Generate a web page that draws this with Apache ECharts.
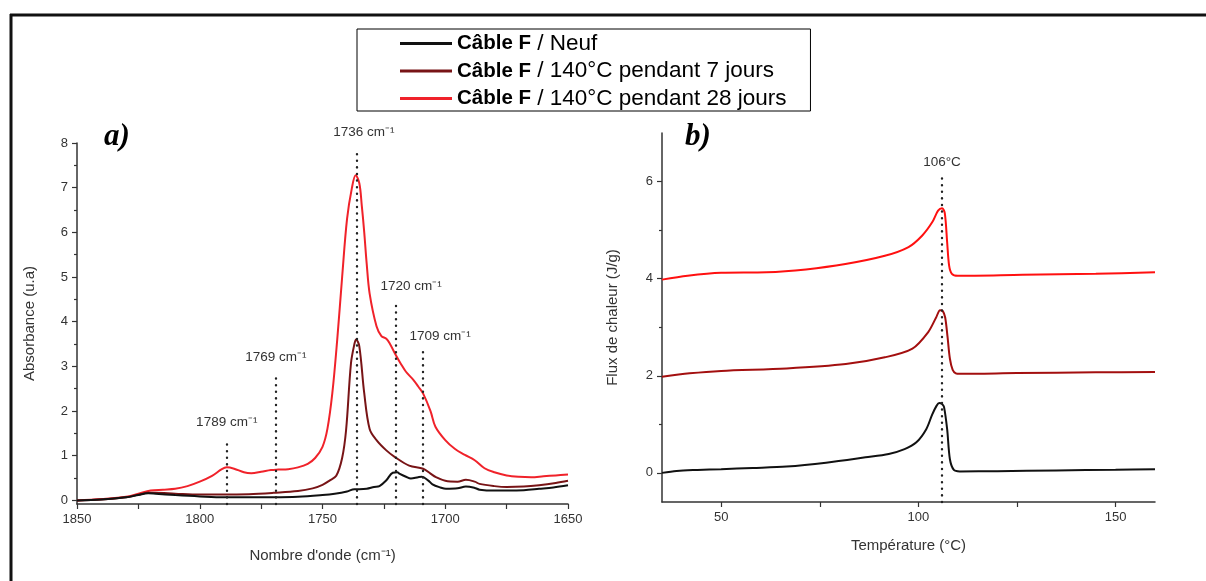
<!DOCTYPE html>
<html>
<head>
<meta charset="utf-8">
<script src="https://cdn.jsdelivr.net/npm/echarts@6/dist/echarts.min.js"></script>
<style>
html,body{margin:0;padding:0;background:#fff;}
#chart{width:1206px;height:581px;}
</style>
</head>
<body>
<div id="chart"></div>
<script>
// ---- Legend / series names ----
const seriesNames = ['Câble F / Neuf', 'Câble F / 140°C pendant 7 jours', 'Câble F / 140°C pendant 28 jours'];

// ---- Panel a) FTIR : [wavenumber (cm-1), absorbance (u.a)] ----
const ftirNeuf = [[1850,0.0],[1840,0.02],[1830,0.07],[1825,0.12],[1821,0.16],[1818,0.15],[1810,0.12],[1800,0.09],[1790,0.07],[1780,0.07],[1770,0.07],[1760,0.08],[1750,0.12],[1745,0.15],[1740,0.2],[1737,0.25],[1735,0.25],[1732,0.26],[1729,0.3],[1726.8,0.32],[1724,0.45],[1721.4,0.62],[1719.5,0.63],[1718.7,0.6],[1716,0.53],[1714,0.49],[1711,0.52],[1709.5,0.53],[1707,0.45],[1705.2,0.36],[1702,0.29],[1699.7,0.26],[1695,0.27],[1691.6,0.31],[1688,0.28],[1686,0.24],[1680,0.22],[1674,0.22],[1668,0.23],[1661.8,0.26],[1656,0.29],[1650,0.34]];
const ftir7j = [[1850,0.0],[1840,0.02],[1830,0.07],[1825,0.13],[1821,0.17],[1818,0.17],[1810,0.15],[1800,0.13],[1790,0.13],[1780,0.14],[1770,0.17],[1760,0.21],[1754,0.27],[1750,0.35],[1747,0.45],[1744.4,0.55],[1742,0.95],[1740.4,1.57],[1738.4,3.07],[1737,3.5],[1736.3,3.6],[1735,3.45],[1733,2.4],[1730.8,1.6],[1728,1.35],[1724,1.12],[1720.5,0.97],[1714.7,0.78],[1709,0.71],[1706,0.6],[1703.8,0.52],[1700,0.44],[1695,0.42],[1691.6,0.46],[1688,0.42],[1686,0.37],[1680,0.32],[1675,0.3],[1668,0.31],[1661.8,0.34],[1655,0.39],[1650,0.44]];
const ftir28j = [[1850,0.0],[1840,0.03],[1830,0.08],[1825,0.15],[1820,0.22],[1815,0.24],[1810,0.26],[1805,0.32],[1800,0.42],[1795,0.55],[1791,0.7],[1789,0.74],[1786,0.71],[1782,0.63],[1779,0.61],[1775,0.64],[1771,0.68],[1768,0.69],[1764,0.7],[1760,0.74],[1756,0.82],[1753,0.95],[1750,1.2],[1748,1.6],[1746,2.4],[1744,3.6],[1742,5.0],[1740,6.3],[1738,7.0],[1736.5,7.28],[1735,7.1],[1734,6.6],[1733,6.0],[1732,5.3],[1730.8,4.63],[1728,3.9],[1726,3.68],[1724,3.62],[1722.5,3.5],[1720.5,3.29],[1718,3.05],[1716,2.88],[1713,2.7],[1711,2.55],[1709,2.39],[1706,2.0],[1704,1.65],[1700,1.35],[1696,1.15],[1692,1.02],[1688,0.9],[1684,0.72],[1680,0.63],[1675,0.56],[1670,0.53],[1665,0.52],[1660,0.54],[1655,0.56],[1650,0.58]];

// ---- Panel a) annotated bands: [wavenumber, top of dotted line] ----
const ftirBands = [[1789,1.38],[1769,2.84],[1736,7.88],[1720,4.44],[1709,3.32]];

// ---- Panel b) DSC : [temperature (°C), heat flow (J/g)] ----
const dscNeuf = [[35,0.0],[38.7,0.04],[44,0.06],[50,0.076],[58,0.1],[66.6,0.13],[76.6,0.21],[86.6,0.32],[92.5,0.39],[96.5,0.49],[99.5,0.63],[102,0.9],[103.5,1.2],[104.6,1.38],[105.3,1.44],[106,1.42],[106.5,1.36],[107.3,0.9],[108,0.28],[109,0.06],[110.5,0.03],[120,0.035],[135,0.05],[150,0.065],[160,0.076]];
const dsc7j = [[35,1.98],[42,2.05],[50,2.1],[66.6,2.15],[81.6,2.24],[91.5,2.38],[98.5,2.56],[102.5,2.9],[104.5,3.2],[105.5,3.35],[106.2,3.33],[106.8,3.2],[107.4,2.8],[108,2.35],[108.7,2.12],[109.5,2.05],[110.5,2.04],[125,2.055],[145,2.07],[160,2.08]];
const dsc28j = [[35,3.98],[41.5,4.06],[50,4.12],[61.5,4.13],[71.5,4.19],[81.5,4.3],[91.5,4.47],[97.5,4.65],[101,4.89],[103.5,5.16],[105,5.4],[106,5.45],[106.7,5.35],[107.3,4.75],[107.8,4.27],[108.5,4.1],[110,4.06],[126.4,4.08],[145,4.1],[160,4.13]];

// ---- Panel b) annotated peak ----
const dscPeak = [[106,6.07]];

// ---- Tick values ----
const aXLabels = [1650,1700,1750,1800,1850];
const aXTicks = [1650,1675,1700,1725,1750,1775,1800,1825,1850];
const aYLabels = [0,1,2,3,4,5,6,7,8];
const aYMinor = [0.5,1.5,2.5,3.5,4.5,5.5,6.5,7.5];
const bXLabels = [50,100,150];
const bXTicks = [50,75,100,125,150];
const bYLabels = [0,2,4,6];
const bYMinor = [1,3,5];

const colA = ['#111111', '#781416', '#f0222a'];
const colB = ['#111111', '#a30f0f', '#ff1010'];
const txt = '#333333';
const FONT = 'Liberation Sans';
const B_MIN = -0.6;

const chart = echarts.init(document.getElementById('chart'), null, {renderer: 'canvas'});

function axisCommon() {
  return {
    axisLine: {show: true, onZero: false, lineStyle: {color: '#333', width: 1.5}},
    axisTick: {show: true, inside: false, length: 5, lineStyle: {color: '#333', width: 1.2}},
    axisLabel: {color: txt, fontSize: 13, fontFamily: FONT, margin: 6},
    splitLine: {show: false}
  };
}
const plain = v => String(v);

function cm(v) { return v + ' cm⁻¹'; }
const bandOffsets = {1789: 0, 1769: 0, 1736: 7, 1720: 15, 1709: 17};

const bandLines = ftirBands.map(b => [
  {coord: [b[0], -0.08]},
  {coord: [b[0], b[1]], label: {formatter: cm(b[0]), offset: [bandOffsets[b[0]] || 0, 0]}}
]);
const peakLines = dscPeak.map(p => [
  {coord: [p[0], B_MIN]},
  {coord: [p[0], p[1]], label: {formatter: p[0] + '°C'}}
]);

const markLineStyle = {
  silent: true,
  symbol: ['none', 'none'],
  animation: false,
  lineStyle: {color: '#222', width: 2.4, type: [0.1, 6.5], cap: 'round'},
  label: {show: true, position: 'end', color: txt, fontSize: 13.5, fontFamily: FONT, distance: 9}
};

const option = {
  animation: false,
  backgroundColor: '#ffffff',
  grid: [
    {left: 77, top: 143, width: 491, height: 361, containLabel: false},
    {left: 662, top: 133, width: 493, height: 369, containLabel: false}
  ],
  legend: {
    data: seriesNames,
    orient: 'vertical',
    left: 357,
    top: 29,
    padding: [3, 24, 1, 43],
    itemGap: 4.5,
    itemWidth: 52,
    itemHeight: 3,
    icon: 'rect',
    borderColor: '#000',
    borderWidth: 1,
    backgroundColor: '#fff',
    selectedMode: false,
    formatter: function (name) {
      const parts = name.split(' / ');
      return '{b|' + parts[0] + '}{n| / ' + parts[1] + '}';
    },
    textStyle: {
      fontFamily: FONT, fontSize: 21, color: '#000', lineHeight: 21,
      rich: {
        b: {fontFamily: FONT, fontSize: 20.5, fontWeight: 'bold', color: '#000', lineHeight: 21},
        n: {fontFamily: FONT, fontSize: 22.5, color: '#000', lineHeight: 21}
      }
    }
  },
  xAxis: [
    Object.assign(axisCommon(), {
      type: 'value', gridIndex: 0, min: 1650, max: 1850, inverse: true,
      name: 'Nombre d\'onde (cm⁻¹)', nameLocation: 'middle', nameGap: 44,
      nameTextStyle: {color: txt, fontSize: 15, fontFamily: FONT},
      axisTick: {show: true, inside: false, length: 5, customValues: aXTicks, lineStyle: {color: '#333', width: 1.2}},
      axisLabel: {color: txt, fontSize: 13, fontFamily: FONT, margin: 9, customValues: aXLabels, formatter: plain}
    }),
    Object.assign(axisCommon(), {
      type: 'value', gridIndex: 1, min: 35, max: 160,
      name: 'Température (°C)', nameLocation: 'middle', nameGap: 36,
      nameTextStyle: {color: txt, fontSize: 15, fontFamily: FONT},
      axisTick: {show: true, inside: false, length: 5, customValues: bXTicks, lineStyle: {color: '#333', width: 1.2}},
      axisLabel: {color: txt, fontSize: 13, fontFamily: FONT, margin: 9, customValues: bXLabels, formatter: plain}
    })
  ],
  yAxis: [
    Object.assign(axisCommon(), {
      type: 'value', gridIndex: 0, min: -0.08, max: 8, position: 'left',
      name: 'Absorbance (u.a)', nameLocation: 'middle', nameGap: 40, nameRotate: 90,
      nameTextStyle: {color: txt, fontSize: 15, fontFamily: FONT},
      axisTick: {show: true, inside: false, length: 5, customValues: aYLabels, lineStyle: {color: '#333', width: 1.2}},
      axisLabel: {color: txt, fontSize: 13, fontFamily: FONT, margin: 9, customValues: aYLabels, formatter: plain}
    }),
    {
      type: 'value', gridIndex: 0, min: -0.08, max: 8, position: 'left', offset: 0,
      axisLine: {show: false},
      axisTick: {show: true, inside: false, length: 3, customValues: aYMinor, lineStyle: {color: '#333', width: 1.2}},
      axisLabel: {show: false},
      splitLine: {show: false}
    },
    Object.assign(axisCommon(), {
      type: 'value', gridIndex: 1, min: B_MIN, max: 7, position: 'left',
      name: 'Flux de chaleur (J/g)', nameLocation: 'middle', nameGap: 42, nameRotate: 90,
      nameTextStyle: {color: txt, fontSize: 15, fontFamily: FONT},
      axisTick: {show: true, inside: false, length: 5, customValues: bYLabels, lineStyle: {color: '#333', width: 1.2}},
      axisLabel: {color: txt, fontSize: 13, fontFamily: FONT, margin: 9, customValues: bYLabels, formatter: plain}
    }),
    {
      type: 'value', gridIndex: 1, min: B_MIN, max: 7, position: 'left', offset: 0,
      axisLine: {show: false},
      axisTick: {show: true, inside: false, length: 3, customValues: bYMinor, lineStyle: {color: '#333', width: 1.2}},
      axisLabel: {show: false},
      splitLine: {show: false}
    }
  ],
  series: [
    {name: seriesNames[0], type: 'line', xAxisIndex: 0, yAxisIndex: 0, data: ftirNeuf, showSymbol: false, symbol: 'none', smooth: 0.35,
     color: colA[0], lineStyle: {width: 2, color: colA[0]}, z: 3,
     markLine: Object.assign({}, markLineStyle, {data: bandLines})},
    {name: seriesNames[1], type: 'line', xAxisIndex: 0, yAxisIndex: 0, data: ftir7j, showSymbol: false, symbol: 'none', smooth: 0.35,
     color: colA[1], lineStyle: {width: 2, color: colA[1]}, z: 2},
    {name: seriesNames[2], type: 'line', xAxisIndex: 0, yAxisIndex: 0, data: ftir28j, showSymbol: false, symbol: 'none', smooth: 0.35,
     color: colA[2], lineStyle: {width: 2, color: colA[2]}, z: 1},
    {name: seriesNames[0], type: 'line', xAxisIndex: 1, yAxisIndex: 2, data: dscNeuf, showSymbol: false, symbol: 'none', smooth: 0.3,
     color: colB[0], lineStyle: {width: 2, color: colB[0]},
     markLine: Object.assign({}, markLineStyle, {data: peakLines})},
    {name: seriesNames[1], type: 'line', xAxisIndex: 1, yAxisIndex: 2, data: dsc7j, showSymbol: false, symbol: 'none', smooth: 0.3,
     color: colB[1], lineStyle: {width: 2, color: colB[1]}},
    {name: seriesNames[2], type: 'line', xAxisIndex: 1, yAxisIndex: 2, data: dsc28j, showSymbol: false, symbol: 'none', smooth: 0.3,
     color: colB[2], lineStyle: {width: 2, color: colB[2]}}
  ],
  graphic: [
    {type: 'line', shape: {x1: 10, y1: 15, x2: 1206, y2: 15}, style: {stroke: '#111', lineWidth: 3}, z: -1},
    {type: 'line', shape: {x1: 11, y1: 14, x2: 11, y2: 581}, style: {stroke: '#111', lineWidth: 3}, z: -1},
    {type: 'text', left: 104, top: 121, style: {text: 'a)', font: 'italic bold 31px "Liberation Serif"', fill: '#000'}},
    {type: 'text', left: 685, top: 121, style: {text: 'b)', font: 'italic bold 31px "Liberation Serif"', fill: '#000'}}
  ]
};
chart.setOption(option);
</script>
</body>
</html>
